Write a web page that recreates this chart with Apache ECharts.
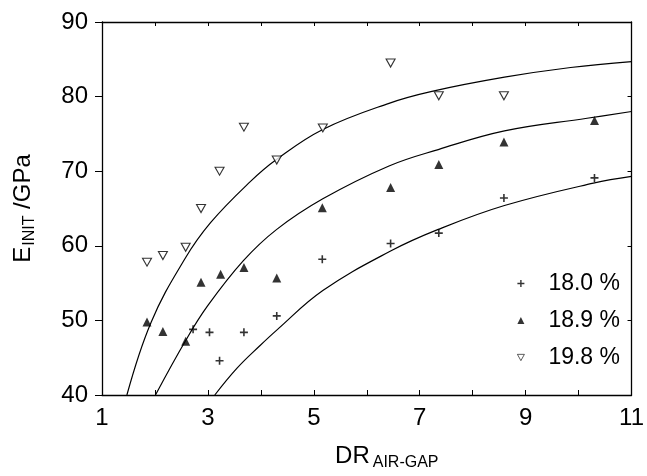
<!DOCTYPE html>
<html>
<head>
<meta charset="utf-8">
<script src="https://cdn.jsdelivr.net/npm/echarts@6/dist/echarts.min.js"></script>
<style>
  html, body { margin: 0; padding: 0; background: #fff; }
  #chart { width: 647px; height: 476px; }
</style>
</head>
<body>
<div id="chart"></div>
<script>
// measured points, [DR, E]
const pts180 = [[2.72, 48.8], [3.03, 48.4], [3.22, 44.6], [3.68, 48.4], [4.30, 50.6], [5.16, 58.2], [6.45, 60.3], [7.36, 61.7], [8.59, 66.4], [10.30, 69.1]]
const pts189 = [[1.85, 49.8], [2.15, 48.5], [2.58, 47.2], [2.87, 55.1], [3.24, 56.2], [3.68, 57.1], [4.30, 55.7], [5.16, 65.1], [6.45, 67.8], [7.36, 70.9], [8.59, 73.9], [10.30, 76.8]]
const pts198 = [[1.85, 57.8], [2.15, 58.7], [2.58, 59.8], [2.87, 65.0], [3.22, 70.0], [3.68, 75.9], [4.30, 71.5], [5.17, 75.8], [6.45, 84.5], [7.36, 80.1], [8.59, 80.1]]

// fitted curves
const curve180 = [[3.13, 40], [3.55, 43.6], [3.98, 46.6], [4.30, 48.7], [5.17, 54.0], [6.45, 59.3], [7.35, 62.2], [8.60, 65.4], [10.28, 68.4], [11, 69.3]]
const curve189 = [[2.01, 40], [2.58, 47.3], [2.99, 51.9], [3.67, 58.0], [4.30, 62.2], [5.17, 66.3], [6.42, 70.7], [7.35, 72.9], [8.60, 75.4], [10.16, 77.1], [11, 78.0]]
const curve198 = [[1.47, 40], [1.93, 49.8], [2.56, 58.2], [3.05, 63.1], [3.80, 68.6], [4.30, 71.6], [5.17, 75.6], [6.42, 79.1], [7.23, 80.7], [8.60, 82.6], [9.85, 83.9], [11, 84.7]]

const seriesNames = ['18.0 %', '18.9 %', '19.8 %']

const font = "'Liberation Sans', Arial, Helvetica, sans-serif"
const plusIcon = 'path://M4,0H6V4H10V6H6V10H4V6H0V4H4Z'
const downTri = 'path://M0,0L10,0L5,9Z'

const chart = echarts.init(document.getElementById('chart'))

const curveSeries = (data) => ({
  type: 'line',
  data: data,
  smooth: 0.4,
  showSymbol: false,
  silent: true,
  lineStyle: { color: '#000', width: 1.2 },
  z: 1
})

chart.setOption({
  animation: false,
  backgroundColor: '#fff',
  grid: { left: 100, right: 12, top: 22, bottom: 80 },
  legend: {
    data: [
      { name: seriesNames[0], icon: plusIcon },
      { name: seriesNames[1], icon: 'triangle' },
      { name: seriesNames[2], icon: downTri, itemStyle: { borderWidth: 0.8 } }
    ],
    orient: 'vertical',
    right: 22,
    top: 267,
    itemWidth: 7,
    itemHeight: 7,
    itemGap: 14,
    textStyle: { fontFamily: font, fontSize: 23, color: '#000', padding: [0, 0, 0, 19] }
  },
  xAxis: [{
    type: 'value',
    min: 1,
    max: 11,
    interval: 2,
    name: '{a|DR}{b|AIR-GAP}',
    nameLocation: 'middle',
    nameGap: 46,
    nameTextStyle: {
      padding: [0, 0, 0, 40],
      rich: {
        a: { fontFamily: font, fontSize: 24, color: '#000', lineHeight: 30 },
        b: { fontFamily: font, fontSize: 16, color: '#000', lineHeight: 30, padding: [14, 0, 0, 3] }
      }
    },
    axisLine: { show: true, lineStyle: { color: '#000', width: 1.3 } },
    axisTick: { show: true, inside: true, length: 5, lineStyle: { color: '#000' } },
    minorTick: { show: true, splitNumber: 2, length: 5, lineStyle: { color: '#000' } },
    splitLine: { show: false },
    axisLabel: { fontFamily: font, fontSize: 24, color: '#000', margin: 11 }
  }, {
    type: 'value',
    position: 'top',
    min: 1,
    max: 11,
    interval: 2,
    axisLine: { show: true, lineStyle: { color: '#000', width: 1.3 } },
    axisTick: { show: true, inside: true, length: 4, lineStyle: { color: '#000' } },
    minorTick: { show: true, splitNumber: 2, length: 4, lineStyle: { color: '#000' } },
    splitLine: { show: false },
    axisLabel: { show: false }
  }],
  yAxis: [{
    type: 'value',
    min: 40,
    max: 90,
    interval: 10,
    name: '{a|E}{b|INIT}{a| /GPa}',
    nameLocation: 'middle',
    nameGap: 64,
    nameTextStyle: {
      rich: {
        a: { fontFamily: font, fontSize: 24, color: '#000', lineHeight: 30 },
        b: { fontFamily: font, fontSize: 16, color: '#000', lineHeight: 30, padding: [14, 0, 0, 1] }
      }
    },
    axisLine: { show: true, lineStyle: { color: '#000', width: 1.3 } },
    axisTick: { show: true, inside: false, length: 7, lineStyle: { color: '#000' } },
    splitLine: { show: false },
    axisLabel: { fontFamily: font, fontSize: 24, color: '#000', margin: 14 }
  }, {
    type: 'value',
    position: 'right',
    min: 40,
    max: 90,
    interval: 10,
    axisLine: { show: true, lineStyle: { color: '#000', width: 1.3 } },
    axisTick: { show: true, inside: true, length: 4, lineStyle: { color: '#000' } },
    splitLine: { show: false },
    axisLabel: { show: false }
  }],
  series: [
    {
      name: seriesNames[0],
      type: 'scatter',
      data: pts180,
      symbol: plusIcon,
      symbolSize: 8,
      itemStyle: { color: '#000' },
      z: 3
    },
    {
      name: seriesNames[1],
      type: 'scatter',
      data: pts189,
      symbol: 'triangle',
      symbolSize: [9, 9],
      itemStyle: { color: '#000' },
      z: 3
    },
    {
      name: seriesNames[2],
      type: 'scatter',
      data: pts198,
      symbol: downTri,
      symbolSize: [9, 8],
      itemStyle: { color: '#fff', borderColor: '#000', borderWidth: 1.1 },
      z: 3
    },
    curveSeries(curve180),
    curveSeries(curve189),
    curveSeries(curve198)
  ]
})
</script>
</body>
</html>
